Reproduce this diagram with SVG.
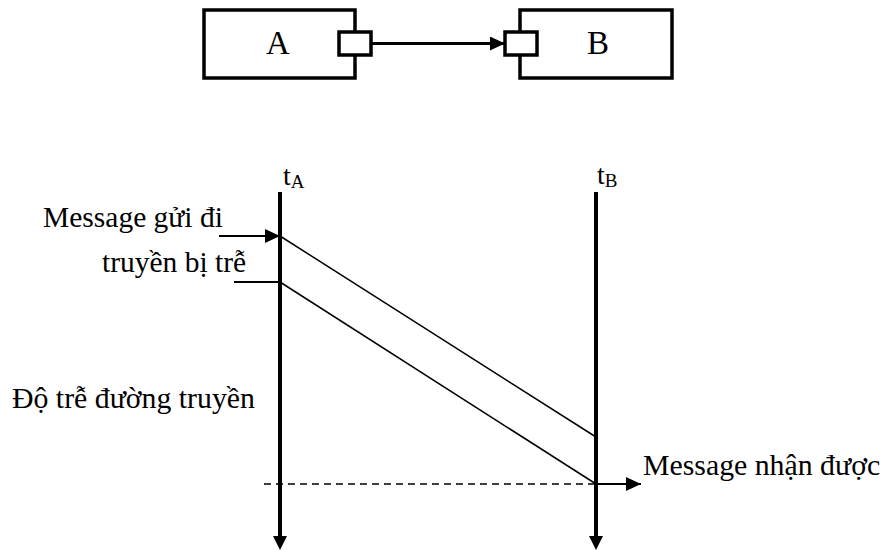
<svg xmlns="http://www.w3.org/2000/svg" width="886" height="550" viewBox="0 0 886 550">
<style>
text{font-family:"Liberation Serif","Times New Roman",serif;fill:#000}
.lbl{font-size:29.5px}
.box{fill:#fff;stroke:#000;stroke-width:3.5}
.big{font-size:33px}
.tl{stroke:#000;stroke-width:4;fill:none}
.thin{stroke:#000;stroke-width:1.5;fill:none}
.arr{stroke:#000;stroke-width:2;fill:none}
.dash{stroke:#000;stroke-width:1.6;stroke-dasharray:7 5;fill:none}
</style>
<defs>
<marker id="ah" markerUnits="userSpaceOnUse" markerWidth="16" markerHeight="14" refX="15" refY="7" orient="auto">
<path d="M0,0 L15,7 L0,14 Z" fill="#000"/>
</marker>
</defs>
<g id="nodeA">
<rect class="box" x="204" y="10" width="151" height="68"/>
<rect class="box" x="339" y="32" width="32" height="23"/>
<text class="big" x="278" y="54" text-anchor="middle">A</text>
</g>
<g id="nodeB">
<rect class="box" x="520" y="10" width="152" height="68"/>
<rect class="box" x="505" y="32" width="32" height="23"/>
<text class="big" x="598" y="54" text-anchor="middle">B</text>
</g>
<g id="timelineA">
<line class="tl" x1="280" y1="192" x2="280" y2="538"/>
<polygon points="273,536 287,536 280,550" fill="#000"/>
<text class="lbl" x="283" y="185" style="font-size:28px">t<tspan style="font-size:19px" dy="3">A</tspan></text>
</g>
<g id="timelineB">
<line class="tl" x1="596" y1="192" x2="596" y2="538"/>
<polygon points="589,536 603,536 596,550" fill="#000"/>
<text class="lbl" x="597" y="184" style="font-size:28px">t<tspan style="font-size:19px" dy="3">B</tspan></text>
</g>
<g id="connectors">
<line class="arr" x1="371" y1="43.5" x2="505" y2="43.5" style="stroke-width:3" marker-end="url(#ah)"/>
<line class="arr" x1="219" y1="236" x2="280" y2="236" marker-end="url(#ah)"/>
<line class="arr" x1="234" y1="282" x2="280" y2="282"/>
<line class="thin" x1="280" y1="236" x2="596" y2="437"/>
<line class="thin" x1="280" y1="282" x2="596" y2="484"/>
<line class="dash" x1="264" y1="484" x2="596" y2="484"/>
<line class="arr" x1="596" y1="484" x2="641" y2="484" marker-end="url(#ah)"/>
</g>
<g id="labels">
<text class="lbl" x="43" y="227">Message gửi đi</text>
<text class="lbl" x="102" y="272">truyền bị trễ</text>
<text class="lbl" x="12" y="408" style="font-size:29.8px">Độ trễ đường truyền</text>
<text class="lbl" x="643" y="475" style="font-size:29.8px">Message nhận được</text>
</g>
</svg>
